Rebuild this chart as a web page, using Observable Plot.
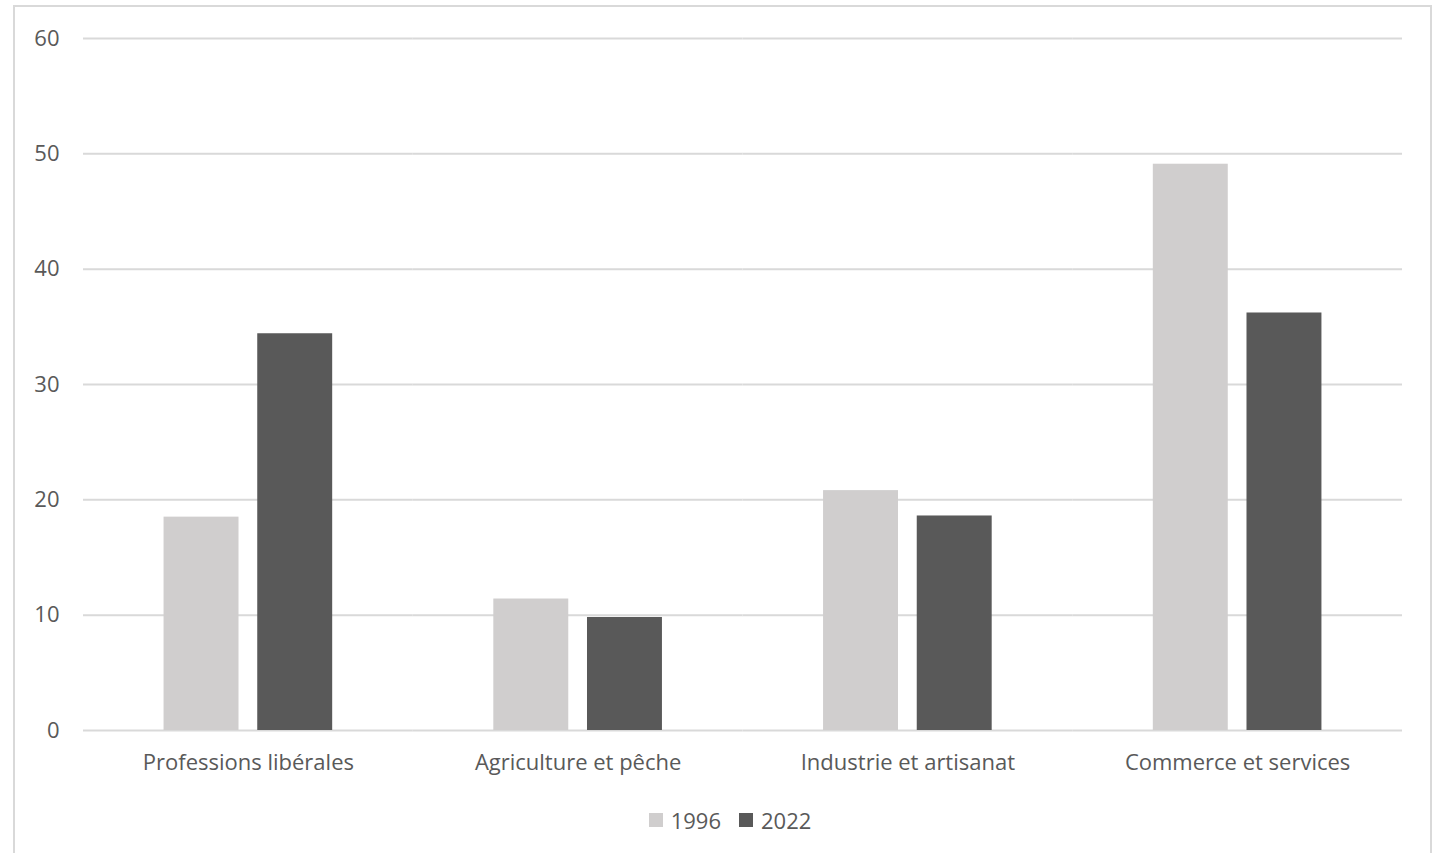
<!DOCTYPE html>
<html>
<head>
<meta charset="utf-8">
<script src="https://cdn.jsdelivr.net/npm/d3@7"></script>
<script src="https://cdn.jsdelivr.net/npm/@observablehq/plot@0.6"></script>
<style>
  html, body { margin: 0; padding: 0; background: #fff; overflow: hidden; width: 1438px; height: 853px; }
  #frame { position: absolute; left: 13px; top: 5px; width: 1419px; height: 900px; border: 2px solid #d9d9d9; box-sizing: border-box; }
  #chart { position: absolute; left: 0; top: 0; }
  #legend { position: absolute; left: 0; top: 805px; width: 1438px; display: flex; justify-content: center; gap: 18px;
    font-family: "Open Sans", sans-serif; font-size: 22px; color: #595959; padding-left: 22px; box-sizing: border-box; }
  .item { display: flex; align-items: center; gap: 8px; }
  .sw { width: 14px; height: 14px; display: inline-block; }
</style>
</head>
<body>
<div id="frame"></div>
<div id="chart"></div>
<div id="legend"></div>
<script>
const categories = ["Professions libérales", "Agriculture et pêche", "Industrie et artisanat", "Commerce et services"];
const years = ["1996", "2022"];
const values1996 = [18.5, 11.4, 20.8, 49.1];
const values2022 = [34.4, 9.8, 18.6, 36.2];
const colors = ["#d0cece", "#595959"];
const yTicks = [0, 10, 20, 30, 40, 50, 60];

const data = [];
categories.forEach((c, i) => {
  data.push({category: c, year: years[0], value: values1996[i]});
  data.push({category: c, year: years[1], value: values2022[i]});
});

const font = "Open Sans, sans-serif";
const chart = Plot.plot({
  width: 1438,
  height: 800,
  marginLeft: 83,
  marginRight: 36,
  marginTop: 38,
  marginBottom: 70,
  style: {fontFamily: font, fontSize: "22px", color: "#595959", background: "transparent"},
  fx: {domain: categories, padding: 0, label: null, round: false},
  x: {domain: years, paddingInner: 0.2, paddingOuter: 0.86, axis: null, round: false},
  y: {domain: [0, 60], ticks: yTicks, label: null},
  color: {domain: years, range: colors},
  marks: [
    Plot.ruleY(yTicks, {stroke: "#d9d9d9", strokeWidth: 2}),
    Plot.barY(data, {fx: "category", x: "year", y: "value", fill: "year"}),
    Plot.axisY({ticks: yTicks, tickSize: 0, tickPadding: 24, label: null, fill: "#595959"}),
    Plot.axisFx({anchor: "bottom", tickSize: 0, tickPadding: 24, label: null, fill: "#595959"})
  ]
});
document.getElementById("chart").appendChild(chart);

const legend = document.getElementById("legend");
years.forEach((y, i) => {
  const item = document.createElement("div");
  item.className = "item";
  const sw = document.createElement("span");
  sw.className = "sw";
  sw.style.background = colors[i];
  const t = document.createElement("span");
  t.textContent = y;
  item.appendChild(sw);
  item.appendChild(t);
  legend.appendChild(item);
});
</script>
</body>
</html>
